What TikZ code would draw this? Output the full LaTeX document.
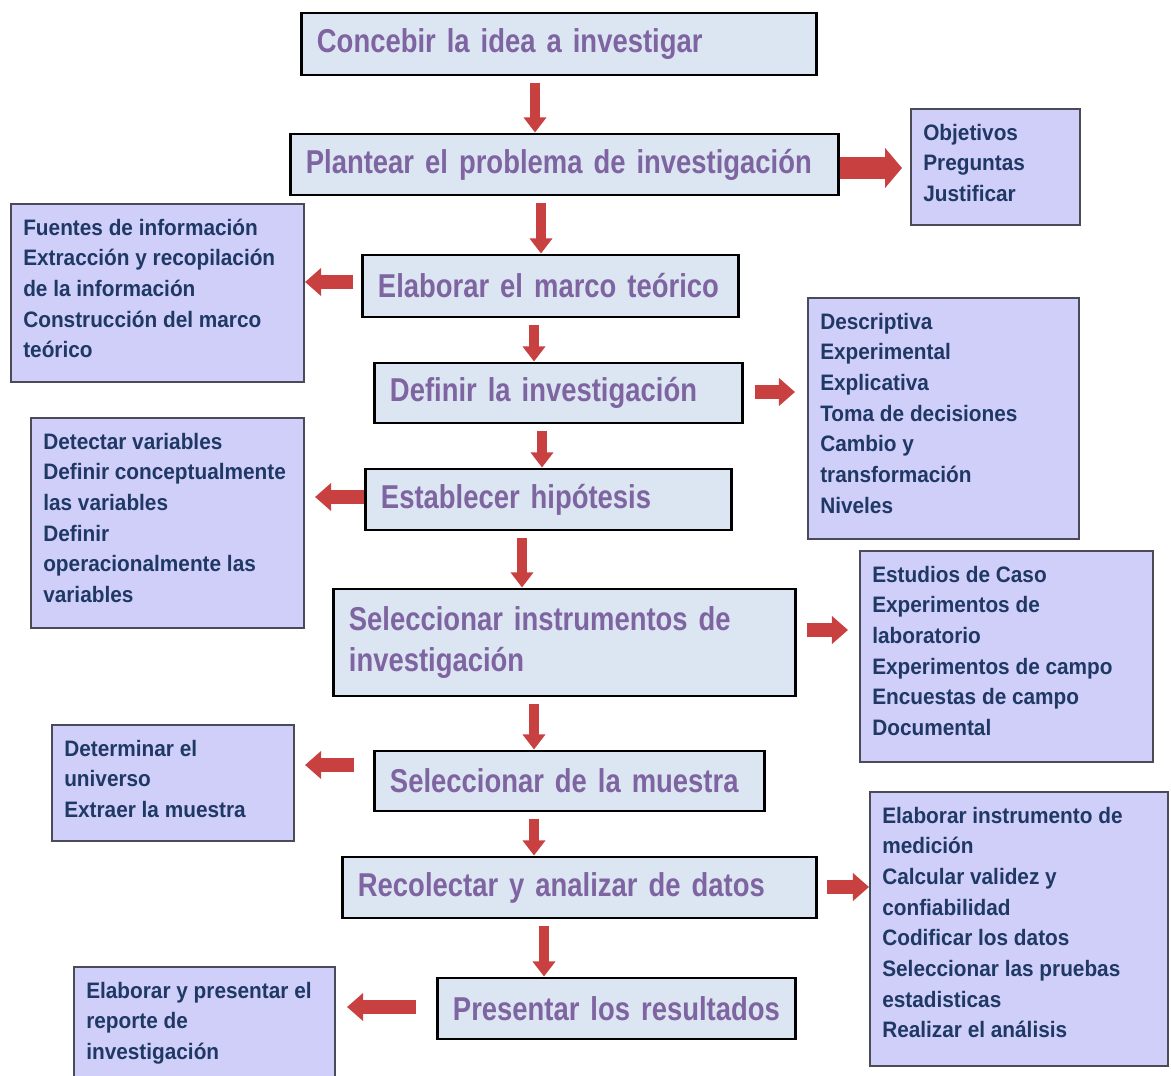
\documentclass[tikz,border=0pt]{standalone}
\usepackage{fontspec}
\usepackage{tikz}
\usetikzlibrary{arrows.meta}

\setmainfont{Liberation Sans}
\newfontfamily\pasofont[FakeStretch=0.83]{Liberation Sans}
\newfontfamily\listafont[FakeStretch=0.93]{Liberation Sans}

\definecolor{pasofondo}{HTML}{DCE6F2}
\definecolor{pasotexto}{HTML}{7E64A0}
\definecolor{ladofondo}{HTML}{CFCFFA}
\definecolor{ladoborde}{HTML}{4A4A58}
\definecolor{ladotexto}{HTML}{1F3864}
\definecolor{rojo}{HTML}{C94040}

\tikzset{
  paso/.style={draw=black, line width=2.1pt, fill=pasofondo, text=pasotexto,
    font=\pasofont\bfseries\fontsize{23.5}{28.5}\selectfont, align=left,
    inner xsep=0.375cm, inner ysep=0pt, minimum height=1.525cm},
  lado/.style={draw=ladoborde, line width=1.4pt, fill=ladofondo,
    anchor=north west, inner sep=0pt},
  lista/.style={text=ladotexto, font=\listafont\bfseries\fontsize{15.9}{21.8}\selectfont,
    align=left, anchor=north west, inner xsep=0.325cm, inner ysep=0.39cm},
  baja/.style={draw=rojo, line width=6.5pt, -{Triangle[width=15.6pt,length=10.7pt]},
    shorten <=4.3pt},
  sale/.style={draw=rojo, line width=9.3pt, -{Triangle[width=19.2pt,length=11.4pt]}},
  salegrande/.style={draw=rojo, line width=15.6pt, -{Triangle[width=27.7pt,length=12pt]}}
}

\begin{document}
\begin{tikzpicture}[x=0.025cm, y=-0.025cm]
      \clip (0,0) rectangle (1171,1076);
      \fill[white] (0,0) rectangle (1171,1076);

      % pasos
      \node[paso, minimum width=12.85cm, text width=12.1cm, minimum height=1.55cm] (concebir) at (559,44) {Concebir la idea a investigar};
      \node[paso, minimum width=13.675cm, text width=12.925cm] (plantear) at (564.5,164.5) {Plantear el problema de investigación};
      \node[paso, minimum width=9.375cm, text width=8.625cm, minimum height=1.55cm] (marco) at (550.5,286) {Elaborar el marco teórico};
      \node[paso, minimum width=9.175cm, text width=8.425cm, minimum height=1.5cm] (definir) at (558.5,393) {Definir la investigación};
      \node[paso, minimum width=9.125cm, text width=8.375cm] (hipotesis) at (548.5,499.5) {Establecer hipótesis};
      \node[paso, minimum width=11.525cm, text width=10.775cm, minimum height=2.675cm] (instrumentos) at (564.5,642.5) {Seleccionar instrumentos de\\investigación};
      \node[paso, minimum width=9.725cm, text width=8.975cm, minimum height=1.5cm] (muestra) at (569.5,781) {Seleccionar de la muestra};
      \node[paso, minimum width=11.825cm, text width=11.075cm] (datos) at (579.5,887.5) {Recolectar y analizar de datos};
      \node[paso, minimum width=8.925cm, text width=8.175cm] (resultados) at (616.5,1008.5) {Presentar los resultados};

      % cuadros laterales
      \node[lado, minimum width=4.225cm, minimum height=2.9cm] (objetivos) at (910,108) {};
      \node[lista] (objetivos texto) at (objetivos.north west) {Objetivos\\Preguntas\\Justificar};

      \node[lado, minimum width=7.325cm, minimum height=4.45cm] (fuentes) at (10,203) {};
      \node[lista] (fuentes texto) at (fuentes.north west) {Fuentes de información\\Extracción y recopilación\\de la información\\Construcción del marco\\teórico};

      \node[lado, minimum width=6.775cm, minimum height=6.025cm] (tipos) at (807,297) {};
      \node[lista] (tipos texto) at (tipos.north west) {Descriptiva\\Experimental\\Explicativa\\Toma de decisiones\\Cambio y\\transformación\\Niveles};

      \node[lado, minimum width=6.825cm, minimum height=5.25cm] (variables) at (30,417) {};
      \node[lista] (variables texto) at (variables.north west) {Detectar variables\\Definir conceptualmente\\las variables\\Definir\\operacionalmente las\\variables};

      \node[lado, minimum width=7.325cm, minimum height=5.275cm] (estudios) at (859,550) {};
      \node[lista] (estudios texto) at (estudios.north west) {Estudios de Caso\\Experimentos de\\laboratorio\\Experimentos de campo\\Encuestas de campo\\Documental};

      \node[lado, minimum width=6.05cm, minimum height=2.9cm] (universo) at (51,724) {};
      \node[lista] (universo texto) at (universo.north west) {Determinar el\\universo\\Extraer la muestra};

      \node[lado, minimum width=7.45cm, minimum height=6.85cm] (medicion) at (869,791) {};
      \node[lista] (medicion texto) at (medicion.north west) {Elaborar instrumento de\\medición\\Calcular validez y\\confiabilidad\\Codificar los datos\\Seleccionar las pruebas\\estadisticas\\Realizar el análisis};

      \node[lado, minimum width=6.525cm, minimum height=3.5cm] (reporte) at (73,966) {};
      \node[lista] (reporte texto) at (reporte.north west) {Elaborar y presentar el\\reporte de\\investigación};

      % flechas hacia abajo
      \draw[baja] (concebir.south -| 535,0) -- (plantear.north -| 535,0);
      \draw[baja] (plantear.south -| 541,0) -- (marco.north -| 541,0);
      \draw[baja] (marco.south -| 534,0) -- (definir.north -| 534,0);
      \draw[baja] (definir.south -| 542,0) -- (hipotesis.north -| 542,0);
      \draw[baja] (hipotesis.south -| 522,0) -- (instrumentos.north -| 522,0);
      \draw[baja] (instrumentos.south -| 534,0) -- (muestra.north -| 534,0);
      \draw[baja] (muestra.south -| 534,0) -- (datos.north -| 534,0);
      \draw[baja] (datos.south -| 544,0) -- (resultados.north -| 544,0);

      % flechas hacia los lados
      \draw[salegrande, shorten >=0.2cm] (plantear.east |- 0,168) -- (objetivos.west |- 0,168);
      \draw[sale, shorten <=0.2cm] (marco.west |- 0,282) -- (fuentes.east |- 0,282);
      \draw[sale, shorten <=0.275cm, shorten >=0.3cm] (definir.east |- 0,392) -- (tipos.west |- 0,392);
      \draw[sale, shorten >=0.25cm] (hipotesis.west |- 0,497) -- (variables.east |- 0,497);
      \draw[sale, shorten <=0.25cm, shorten >=0.275cm] (instrumentos.east |- 0,630) -- (estudios.west |- 0,630);
      \draw[sale, shorten <=0.475cm, shorten >=0.25cm] (muestra.west |- 0,765) -- (universo.east |- 0,765);
      \draw[sale, shorten <=0.225cm] (datos.east |- 0,887) -- (medicion.west |- 0,887);
      \draw[sale, shorten <=0.5cm, shorten >=0.275cm] (resultados.west |- 0,1007) -- (reporte.east |- 0,1007);
\end{tikzpicture}
\end{document}
